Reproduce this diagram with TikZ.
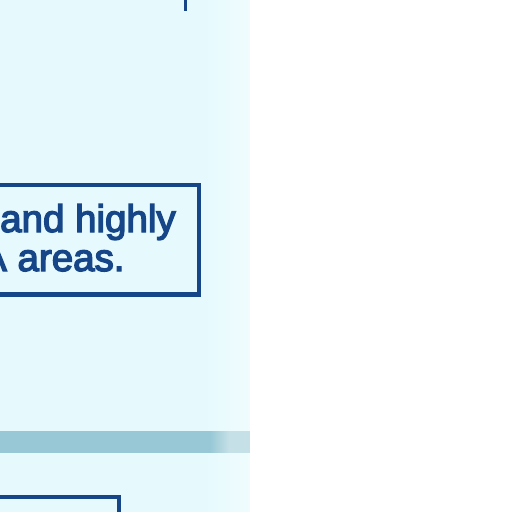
\documentclass[tikz,border=0pt]{standalone}
\usepackage{fontspec}
\newfontfamily\labelfont[FakeBold=3.5]{Liberation Sans}
\definecolor{panelbg}{RGB}{230,250,253}
\definecolor{panelfade}{RGB}{240,252,254}
\definecolor{navy}{RGB}{22,70,136}
\definecolor{bandcol}{RGB}{152,200,214}
\definecolor{bandlight}{RGB}{197,224,230}
\tikzset{
  framebox/.style={draw=navy, line width=4.2pt},
  lbl/.style={anchor=base west, inner sep=0pt, text=navy, font=\labelfont\fontsize{38.5}{40}\selectfont},
}
\begin{document}
\begin{tikzpicture}[x=1pt,y=-1pt]
\useasboundingbox (0,0) rectangle (512,512);
\clip (0,0) rectangle (512,512);
\fill[white] (0,0) rectangle (512,512);
% panel background with fade on the right
\fill[panelbg] (0,0) rectangle (206,512);
\foreach \i in {0,...,43}{
  \pgfmathsetmacro{\p}{100-\i*100/43}
  \fill[panelbg!\p!panelfade] (206+\i,0) rectangle (207.2+\i,512);
}
% band
\fill[bandcol] (0,431) rectangle (210,453);
\foreach \i in {0,...,19}{
  \pgfmathsetmacro{\p}{100-\i*100/19}
  \fill[bandcol!\p!bandlight] (210+\i,431) rectangle (211.2+\i,453);
}
\fill[bandlight] (230,431) rectangle (250,453);
% top vertical connector
\coordinate (vt) at (185.5,-2);
\coordinate (vb) at (185.5,11);
\draw[navy, line width=2.5pt] (vt) -- (vb);
% box with text
\draw[framebox] (-10,185) -- (199,185) -- (199,294.5) -- (-10,294.5);
\node[lbl] (l1) at (0,232) {and highly};
\node[lbl] (l2) at (-19,271) {A areas.};
% bottom box
\draw[framebox, line width=3.5pt] (-10,497) -- (119,497) -- (119,520);
\end{tikzpicture}
\end{document}
